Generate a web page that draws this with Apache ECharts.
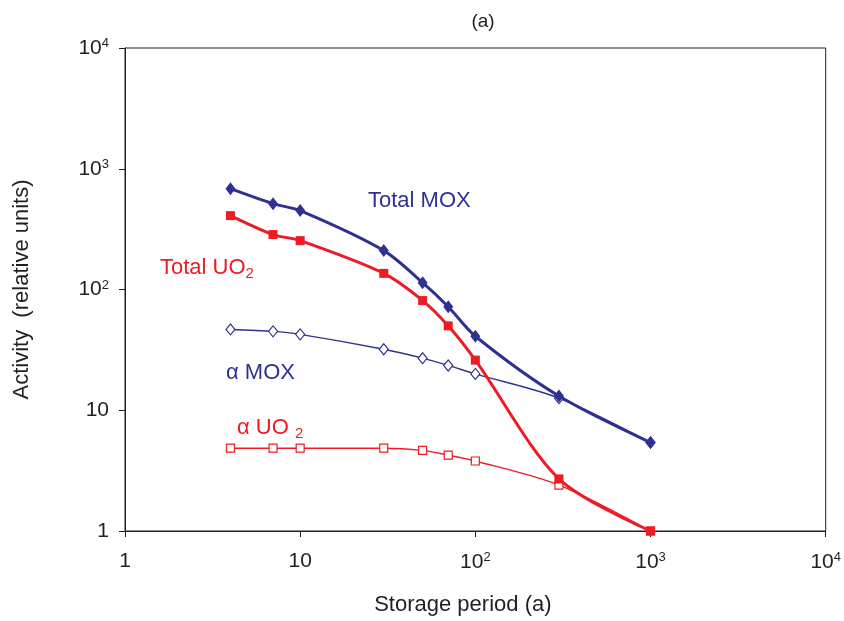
<!DOCTYPE html>
<html>
<head>
<meta charset="utf-8">
<script src="https://cdn.jsdelivr.net/npm/echarts@6/dist/echarts.min.js"></script>
<style>
  html, body { margin: 0; padding: 0; background: #fff; }
  #chart { width: 844px; height: 621px; }
</style>
</head>
<body>
<div id="chart"></div>
<script>
// Storage periods (years) at which activity was evaluated
const periods = [4, 7, 10, 30, 50, 70, 100, 300, 1000];

// Activity in relative units
const totalMOX = [684, 514, 450, 210, 114, 72, 41, 13.1, 5.4];
const totalUO2 = [409, 285, 254, 136, 81, 50, 26, 2.7, 1.0];
const alphaMOX = [46.7, 45, 42.5, 32, 27, 23.5, 20, 12.6, 5.4];
const alphaUO2 = [4.85, 4.85, 4.85, 4.85, 4.65, 4.25, 3.8, 2.4, 1.0];

const decadeLabels = { 1: '1', 10: '10', 100: '10{sup|2}', 1000: '10{sup|3}', 10000: '10{sup|4}' };

const BLUE = '#2e3192';
const RED = '#ed1c24';
const INK = '#231f20';
const FONT = '"Liberation Sans", Arial, Helvetica, sans-serif';

function pairs(ys) { return periods.map((x, i) => [x, ys[i]]); }

const tickRich = {
  sup: { fontSize: 13, verticalAlign: 'top', padding: [0, 0, 9, 0], color: INK, fontFamily: FONT }
};
const subRich = {
  sub: { fontSize: 15, verticalAlign: 'bottom', padding: [11, 0, 0, 0], fontFamily: FONT }
};

const chart = echarts.init(document.getElementById('chart'));
chart.setOption({
  animation: false,
  backgroundColor: '#fff',
  textStyle: { fontFamily: FONT },
  title: {
    text: '(a)', left: 478, top: 7, textAlign: 'center',
    textStyle: { fontSize: 19, fontWeight: 'normal', color: INK, fontFamily: FONT }
  },
  grid: {
    left: 125, top: 48, right: 16, bottom: 89,
    show: true, borderColor: INK, borderWidth: 1
  },
  xAxis: {
    type: 'log', logBase: 10, min: 1, max: 10000,
    name: 'Storage period (a)', nameLocation: 'middle', nameGap: 63,
    nameTextStyle: { fontSize: 22, color: INK, padding: [0, 25, 0, 0], fontFamily: FONT },
    axisLine: { lineStyle: { color: INK, width: 1 } },
    axisTick: { length: 6, lineStyle: { color: INK } },
    splitLine: { show: false },
    minorTick: { show: false },
    axisLabel: {
      margin: 20, fontSize: 21, color: INK, fontFamily: FONT,
      formatter: v => decadeLabels[Math.round(v)] || '',
      rich: tickRich
    }
  },
  yAxis: {
    type: 'log', logBase: 10, min: 1, max: 10000,
    name: 'Activity  (relative units)', nameLocation: 'middle', nameGap: 92,
    nameRotate: 90,
    nameTextStyle: { fontSize: 22, color: INK, fontFamily: FONT },
    axisLine: { lineStyle: { color: INK, width: 1 } },
    axisTick: { length: 6, lineStyle: { color: INK } },
    splitLine: { show: false },
    axisLabel: {
      margin: 16, fontSize: 21, color: INK, fontFamily: FONT,
      formatter: v => decadeLabels[Math.round(v)] || '',
      rich: tickRich
    }
  },
  series: [
    {
      name: 'α UO2', type: 'line', data: pairs(alphaUO2), smooth: 0.3,
      symbol: 'rect', symbolSize: 8,
      itemStyle: { color: '#fff', borderColor: RED, borderWidth: 1.2 },
      lineStyle: { color: RED, width: 1.4 }, z: 2
    },
    {
      name: 'α MOX', type: 'line', data: pairs(alphaMOX), smooth: 0.3,
      symbol: 'diamond', symbolSize: [9, 11],
      itemStyle: { color: '#fff', borderColor: BLUE, borderWidth: 1.2 },
      lineStyle: { color: BLUE, width: 1.4 }, z: 2
    },
    {
      name: 'Total UO2', type: 'line', data: pairs(totalUO2), smooth: 0.3,
      symbol: 'rect', symbolSize: 9,
      itemStyle: { color: RED },
      lineStyle: { color: RED, width: 3 }, z: 3
    },
    {
      name: 'Total MOX', type: 'line', data: pairs(totalMOX), smooth: 0.3,
      symbol: 'diamond', symbolSize: [10, 13],
      itemStyle: { color: BLUE },
      lineStyle: { color: BLUE, width: 3 }, z: 4
    }
  ],
  graphic: [
    {
      type: 'text', left: 368, top: 190,
      style: { text: 'Total MOX', fill: BLUE, font: '22px ' + FONT }
    },
    {
      type: 'text', left: 160, top: 257,
      style: { text: 'Total UO{sub|2}', fill: RED, font: '22px ' + FONT, rich: subRich }
    },
    {
      type: 'text', left: 226, top: 362,
      style: { text: 'α MOX', fill: BLUE, font: '22px ' + FONT }
    },
    {
      type: 'text', left: 237, top: 417,
      style: { text: 'α UO {sub|2}', fill: RED, font: '22px ' + FONT, rich: subRich }
    }
  ]
});
</script>
</body>
</html>
